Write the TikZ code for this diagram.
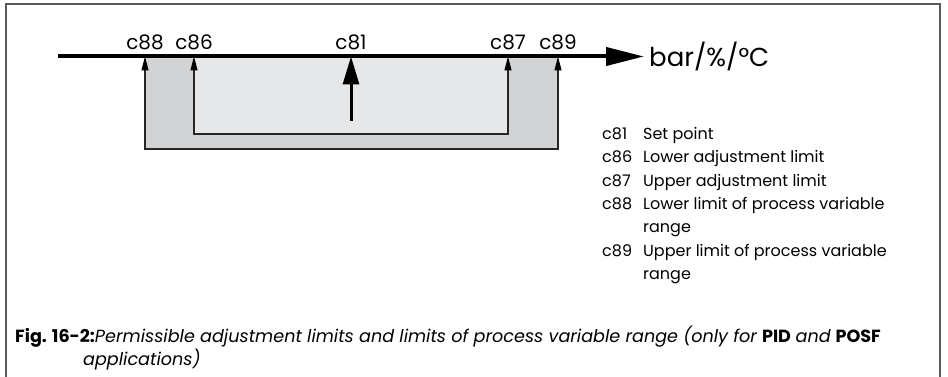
\documentclass[tikz,border=0pt]{standalone}
\usepackage{fontspec}
\setmainfont{Poppins}
\usetikzlibrary{positioning,arrows.meta}

\definecolor{outerrange}{HTML}{D1D3D4}
\definecolor{innerrange}{HTML}{E6E7E8}

\begin{document}
\begin{tikzpicture}[
    x=1pt, y=-1pt,
    axis/.style={line width=4pt, -{Triangle[length=38pt, width=18pt]}},
    limit/.style={draw=black!85, line width=1.2pt, {Triangle[length=14pt, width=7pt, black]}-{Triangle[length=14pt, width=7pt, black]}},
    setarrow/.style={line width=3pt, -{Triangle[length=28pt, width=16pt]}},
    tick/.style={inner sep=0pt, font=\fontsize{20}{24}\selectfont},
    legend/.style={inner sep=0pt, anchor=north west, align=left, font=\fontsize{16}{23.3}\selectfont},
    caption/.style={inner sep=0pt, anchor=north west, align=left, font=\fontsize{17.6}{23}\selectfont}
]
\useasboundingbox (0,0) rectangle (948,377);

% Frame
\draw[black!65, line width=1.5pt] (6,377) -- (6,4) -- (940,4) -- (940,377);

% Points on the axis
\coordinate (p88) at (145,56.5);
\coordinate (p86) at (194,56.5);
\coordinate (p81) at (351,56.5);
\coordinate (p87) at (508,56.5);
\coordinate (p89) at (558,56.5);

% Ranges
\fill[outerrange] (145,57) rectangle (558,149);
\fill[innerrange] (194,57) rectangle (508,134);
\draw[limit] (p88) -- ++(0,92.5) -| (p89);
\draw[limit] (p86) -- ++(0,77.5) -| (p87);
\draw[setarrow] (351,121) -- (p81);

% Axis
\coordinate (start) at (58,56.5);
\coordinate (end) at (644,56.5);
\draw[axis] (start) -- (end);
\node[anchor=west, inner sep=0pt, font=\fontsize{26}{30}\selectfont, right=5pt of end] (unit) {bar/\%/°C};

% Labels
\node[tick, above=6pt of p88] (l88) {c88};
\node[tick, above=6pt of p86] (l86) {c86};
\node[tick, above=6pt of p81] (l81) {c81};
\node[tick, above=6pt of p87] (l87) {c87};
\node[tick, above=6pt of p89] (l89) {c89};

% Legend
\node[legend] (key) at (602,123) {%
  \begin{tabular}{@{}l@{\hspace{11pt}}l@{}}
  c81 & Set point\\
  c86 & Lower adjustment limit\\
  c87 & Upper adjustment limit\\
  c88 & Lower limit of process variable\\
      & range\\
  c89 & Upper limit of process variable\\
      & range
  \end{tabular}};

% Caption
\node[caption] (cap) at (15,326) {\textbf{Fig. 16-2:}\textit{Permissible adjustment limits and limits of process variable range (only for} \textbf{PID} \textit{and} \textbf{POSF}\\
  \hspace{68pt}\textit{applications)}};

\end{tikzpicture}
\end{document}
